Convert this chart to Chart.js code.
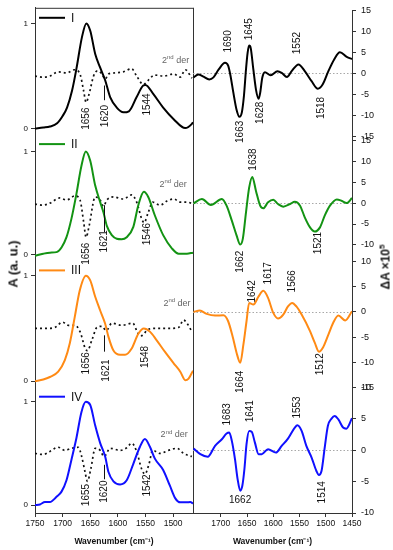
<!DOCTYPE html>
<html><head><meta charset="utf-8">
<script src="https://cdn.jsdelivr.net/npm/chart.js@4.4.1/dist/chart.umd.min.js"></script>
<style>
html,body{margin:0;padding:0;background:#fff;}
#wrap{position:relative;width:393px;height:550px;overflow:hidden;font-family:"Liberation Sans",Arial,sans-serif;}
canvas{position:absolute;top:0;}
#cL{left:0;} #cR{left:193px;}
.ytitle{position:absolute;font-weight:bold;white-space:nowrap;transform:translate(-50%,-50%) rotate(-90deg);color:#111;line-height:1;}
</style></head><body>
<div id="wrap">
<canvas id="cL" width="200" height="550"></canvas>
<canvas id="cR" width="200" height="550"></canvas>
<div class="ytitle" style="left:13px;top:264px;font-size:13px;">A (a. u.)</div>
<div class="ytitle" style="left:385px;top:267px;font-size:12px;">ΔA ×10<sup style="font-size:8px">5</sup></div>
</div>
<script>
// ---------- series names / colours ----------
const panelNames = ['I', 'II', 'III', 'IV'];
const panelColors = ['#000000', '#139313', '#ff8a14', '#1010ff'];

// ---------- left: absorbance spectra (A, a.u.) ----------
const wnAbsI = [1750,1735,1723,1710,1700,1692,1683,1675,1665,1657,1650,1641,1632,1623,1614,1602,1590,1580,1566,1554,1550,1536,1518,1499,1478,1466,1464];
const absI   = [0.00,0.01,0.02,0.05,0.12,0.20,0.36,0.57,0.87,1.00,0.93,0.71,0.58,0.46,0.30,0.20,0.155,0.165,0.30,0.41,0.415,0.33,0.20,0.09,0.005,0.045,0.06];
const wnAbsII = [1750,1735,1723,1711,1702,1693,1684,1675,1666,1658,1650,1641,1632,1626,1620,1611,1602,1593,1584,1572,1563,1553,1545,1533,1518,1502,1490,1475,1464];
const absII   = [-0.01,0.01,0.02,0.025,0.07,0.17,0.35,0.59,0.86,1.0,0.91,0.67,0.51,0.41,0.28,0.19,0.155,0.15,0.17,0.27,0.48,0.61,0.56,0.38,0.19,0.06,0.01,0.01,0.02];
const wnAbsIII = [1750,1735,1723,1708,1696,1687,1678,1669,1658,1650,1641,1632,1623,1617,1608,1596,1587,1575,1563,1553,1542,1530,1515,1499,1487,1478,1472,1464];
const absIII   = [0,0.016,0.04,0.09,0.2,0.36,0.61,0.86,1.0,0.955,0.80,0.67,0.545,0.42,0.29,0.25,0.25,0.31,0.45,0.50,0.47,0.39,0.28,0.17,0.09,0.01,0.025,0.1];
const wnAbsIV = [1750,1741,1732,1723,1711,1702,1693,1684,1675,1666,1658,1650,1641,1632,1623,1617,1608,1596,1584,1572,1560,1551,1542,1533,1518,1506,1496,1487,1475,1469,1464];
const absIV   = [0,0.006,0.03,0.03,0.08,0.13,0.24,0.44,0.65,0.90,1.0,0.97,0.77,0.60,0.47,0.32,0.23,0.20,0.24,0.40,0.565,0.64,0.565,0.45,0.34,0.19,0.065,0.026,0.026,0.03,0.016];

// ---------- left: 2nd derivative traces (dotted, drawn in A units) ----------
const wnDerI = [1750,1735,1723,1708,1693,1678,1668,1662,1657.5,1652,1644,1637,1629,1623,1617,1605,1590,1575,1566,1554,1543,1534,1517,1499,1487,1478,1466];
const derI   = [0.50,0.49,0.50,0.54,0.53,0.56,0.51,0.36,0.25,0.33,0.50,0.55,0.52,0.47,0.52,0.53,0.54,0.57,0.50,0.42,0.47,0.51,0.50,0.52,0.49,0.56,0.48];
const wnDerII = [1750,1735,1723,1705,1693,1678,1668.5,1662,1657.5,1652,1641,1632,1626,1620,1608,1590,1575,1566,1557,1552.5,1545,1537,1523.5,1511,1499,1487,1475,1463];
const derII   = [0.49,0.48,0.50,0.55,0.53,0.57,0.53,0.32,0.17,0.28,0.56,0.53,0.47,0.53,0.56,0.54,0.58,0.51,0.35,0.31,0.41,0.51,0.48,0.52,0.54,0.51,0.51,0.49];
const wnDerIII = [1750,1729,1714,1700,1690,1678,1668.5,1659,1655,1647,1638,1629,1621,1611,1593,1573,1566,1560,1554,1548,1536,1511,1490,1481,1475,1466];
const derIII   = [0.50,0.50,0.51,0.56,0.53,0.53,0.47,0.31,0.29,0.39,0.51,0.52,0.48,0.55,0.53,0.55,0.48,0.43,0.44,0.48,0.50,0.50,0.51,0.58,0.55,0.47];
const wnDerIV = [1750,1735,1723,1708,1696,1684,1671.5,1665.5,1659.4,1655,1649,1641,1632,1625,1614,1596,1584,1575,1566,1557,1551,1543.5,1537,1523.5,1508.5,1493,1481,1466];
const derIV   = [0.50,0.49,0.52,0.56,0.53,0.55,0.56,0.47,0.32,0.23,0.35,0.55,0.53,0.47,0.55,0.53,0.555,0.60,0.52,0.35,0.30,0.40,0.53,0.50,0.53,0.55,0.50,0.47];

// ---------- right: difference spectra (ΔA ×10^5) ----------
const wnDiffI = [1752,1743,1733,1722,1714,1704,1692,1686,1682,1676,1670,1664.5,1660,1656,1652,1649,1646,1643,1638,1633,1628,1625,1621,1616,1605,1592,1584,1574,1565,1552,1540,1527,1515,1506,1495,1484,1473,1460,1450];
const diffI   = [-1.0,-0.3,-0.8,-1.5,-1.0,0.9,2.5,1.8,-0.3,-4.7,-8.7,-10.4,-9.4,-5.5,0.9,4.8,6.6,6.0,0.9,-3.9,-6.1,-4.7,-1.1,0.24,-0.5,0.5,0.1,-0.9,0.5,2.1,0.5,-1.9,-3.7,-2.7,0.5,3.3,5.0,3.9,3.4];
const wnDiffII = [1752,1736,1719,1698,1689,1679,1670,1663,1658,1652,1646,1640,1633,1625,1619,1610,1600,1591,1581,1568,1559,1549,1540,1530,1521,1511,1502,1492,1479,1470,1460,1450];
const diffII   = [-0.1,0.96,-0.47,0.96,-0.62,-4.2,-7.7,-9.9,-8.5,-2.2,3.7,6.25,2.9,-0.6,-1.25,0.17,0.8,-0.23,-0.86,-0.23,0.32,-0.62,-3.4,-5.8,-6.8,-5.8,-3.0,-0.62,0.88,0.56,0.0,1.2];
const wnDiffIII = [1752,1740,1727,1711,1695,1686,1677,1670,1663,1657,1651,1646,1638,1628,1619,1610,1600,1591,1581,1572,1564,1556,1546,1530,1521,1513,1505,1495,1486,1476,1463,1450];
const diffIII   = [0,0.27,-0.39,-0.72,-0.65,-1.85,-5.1,-8.1,-10.1,-6.5,-1.85,1.8,1.46,3.1,4.2,2.8,-0.19,-1.3,-0.52,1.1,1.8,1.1,-0.52,-3.8,-6.1,-7.9,-7.0,-4.5,-2.2,-0.72,-1.7,0.14];
const wnDiffIV = [1752,1739,1725,1711,1698,1689,1684,1679,1673,1668,1663,1659,1655,1651,1646,1641,1635,1628,1622,1610,1595,1584,1572,1559,1554,1546,1537,1527,1518,1513,1508,1502,1496,1489,1483,1476,1467,1461,1450];
const diffIV   = [0.26,-0.64,-1.06,0.68,1.74,2.64,2.8,1.48,-1.43,-4.6,-6.45,-5.67,-3.0,0.95,3.06,2.9,1.2,-0.64,-0.64,0.15,-0.38,0.68,1.85,3.6,3.96,3.06,0.68,-1.17,-3.28,-3.97,-3.28,0.42,3.86,5.02,5.44,4.9,3.6,3.43,5.07];

// ---------- axes ----------
const absRange  = [[-0.052,1.149],[-0.055,1.169],[-0.052,1.145],[-0.077,1.147]];
const absTicks  = [0, 1];
const diffRange = [[-15,15],[-14,16],[-15,10],[-10,10]];
const diffTicks = [[-15,-10,-5,0,5,10,15],[-10,-5,0,5,10,15],[-15,-10,-5,0,5,10],[-10,-5,0,5,10]];
const xRangeLeft  = [1464, 1750];
const xRangeRight = [1450, 1753];
const xTicksLeft  = [1750,1700,1650,1600,1550,1500];
const xTicksRight = [1700,1650,1600,1550,1500,1450];
const xTitle = 'Wavenumber (cm⁻¹)';

// ---------- annotations ----------
const absPeakLabels = [
  [['1656',1657.6,0.095],['1620',1622.6,0.12],['1544',1547.6,0.23]],
  [['1656',1657.6,0.01],['1621',1624.5,0.13],['1546',1547.6,0.20]],
  [['1656',1657.6,0.17],['1621',1621.4,0.10],['1548',1550.7,0.23]],
  [['1655',1657.6,0.097],['1620',1624.5,0.13],['1542',1547.6,0.19]]
];
const absMarkLines = [[1625.5,0.41,0.27],[1625.5,0.48,0.22],[1624.5,0.435,0.28],[1626,0.39,0.25]];
const derLabelPos = [[1495.5,0.646],[1500,0.68],[1493,0.74],[1498,0.68]];
const derLabelText = ['2','nd',' der'];
const diffPeakLabels = [
  [['1690',1686.7,7.6],['1645',1645.5,10.5],['1663',1663.3,-14],['1628',1625.2,-9.45],['1552',1554,7.2],['1518',1507.7,-8.3]],
  [['1638',1638,10.4],['1662',1663,-14],['1521',1514,-9.55]],
  [['1642',1641,4.1],['1617',1609.4,7.7],['1566',1564.8,6.1],['1664',1663.3,-13.9],['1512',1509.6,-10.4]],
  [['1683',1688.6,5.7],['1641',1644.2,6.2],['1553',1554,6.8],['1662',1663.3,-7.9,'h'],['1514',1506.5,-6.7]]
];

// ---------- build ----------
const FONT = '"Liberation Sans", Arial, sans-serif';
Chart.defaults.font.family = FONT;
Chart.defaults.color = '#111';
const AX = '#333';

const pts = (xs, ys) => xs.map((x, i) => ({x: x, y: ys[i]}));
const absSeries = [[wnAbsI,absI],[wnAbsII,absII],[wnAbsIII,absIII],[wnAbsIV,absIV]];
const derSeries = [[wnDerI,derI],[wnDerII,derII],[wnDerIII,derIII],[wnDerIV,derIV]];
const diffSeries = [[wnDiffI,diffI],[wnDiffII,diffII],[wnDiffIII,diffIII],[wnDiffIV,diffIV]];

function xScale(range, ticks) {
  return {
    type: 'linear', position: 'bottom', reverse: true, min: range[0], max: range[1],
    afterBuildTicks: s => { s.ticks = ticks.map(v => ({value: v})); },
    afterFit: s => { s.height = 37; },
    grid: {drawOnChartArea: false, drawTicks: true, tickLength: 4, tickColor: AX},
    border: {color: AX, width: 1},
    ticks: {font: {size: 8.5}, color: '#111', padding: 2, autoSkip: false, maxRotation: 0, callback: v => String(v)},
    title: {display: true, text: xTitle, font: {size: 8.5, weight: 'bold'}, color: '#111', padding: {top: 0, bottom: 3}}
  };
}

function drawRot(ctx, text, x, y, horiz) {
  ctx.save();
  ctx.translate(x, y);
  if (!horiz) ctx.rotate(-Math.PI / 2);
  ctx.textAlign = 'center'; ctx.textBaseline = 'middle';
  ctx.fillText(text, 0, 0);
  ctx.restore();
}

function drawLegend(ctx, chart, scale, i) {
  const y = scale.top + 10;
  const x0 = chart.chartArea.left + 4;
  ctx.save();
  ctx.strokeStyle = panelColors[i]; ctx.lineWidth = 2;
  ctx.beginPath(); ctx.moveTo(x0, y); ctx.lineTo(x0 + 26, y); ctx.stroke();
  ctx.fillStyle = '#111'; ctx.font = '12px ' + FONT;
  ctx.textAlign = 'left'; ctx.textBaseline = 'middle';
  ctx.fillText(panelNames[i], x0 + 32, y + 0.5);
  ctx.restore();
}

function drawDerLabel(ctx, cx, cy) {
  ctx.save();
  ctx.fillStyle = '#666'; ctx.textBaseline = 'middle'; ctx.textAlign = 'left';
  const big = '9px ' + FONT, small = '6px ' + FONT;
  ctx.font = big; const w1 = ctx.measureText(derLabelText[0]).width, w3 = ctx.measureText(derLabelText[2]).width;
  ctx.font = small; const w2 = ctx.measureText(derLabelText[1]).width;
  let x = cx - (w1 + w2 + w3) / 2;
  ctx.font = big; ctx.fillText(derLabelText[0], x, cy); x += w1;
  ctx.font = small; ctx.fillText(derLabelText[1], x, cy - 3); x += w2;
  ctx.font = big; ctx.fillText(derLabelText[2], x, cy);
  ctx.restore();
}

// ----- left chart -----
const leftScales = {};
[3,2,1,0].forEach(i => {
  leftScales['yL' + i] = {
    type: 'linear', position: 'left', stack: 'L', stackWeight: 1, weight: 4 - i,
    min: absRange[i][0], max: absRange[i][1],
    afterBuildTicks: s => { s.ticks = absTicks.map(v => ({value: v})); },
    afterFit: s => { s.width = 35; },
    grid: {drawOnChartArea: false, drawTicks: true, tickLength: 4, tickColor: AX},
    border: {color: AX, width: 1},
    ticks: {font: {size: 8}, color: '#111', padding: 3, autoSkip: false, callback: v => String(v)}
  };
});
leftScales.x = xScale(xRangeLeft, xTicksLeft);

const leftDatasets = [];
for (let i = 0; i < 4; i++) {
  leftDatasets.push({label: panelNames[i], data: pts(absSeries[i][0], absSeries[i][1]), yAxisID: 'yL' + i, xAxisID: 'x',
    borderColor: panelColors[i], borderWidth: 2, pointRadius: 0, fill: false, cubicInterpolationMode: 'monotone'});
  leftDatasets.push({label: panelNames[i] + ' 2nd der', data: pts(derSeries[i][0], derSeries[i][1]), yAxisID: 'yL' + i, xAxisID: 'x',
    borderColor: '#111', borderWidth: 1.7, borderDash: [2, 3], pointRadius: 0, fill: false, cubicInterpolationMode: 'monotone'});
}

const leftPlugin = {
  id: 'leftDeco',
  afterDatasetsDraw(chart) {
    const ctx = chart.ctx, a = chart.chartArea, xs = chart.scales.x;
    ctx.save();
    ctx.strokeStyle = AX; ctx.lineWidth = 1;
    ctx.beginPath();
    ctx.moveTo(a.left, a.top + 0.5); ctx.lineTo(a.right + 0.5, a.top + 0.5);
    ctx.moveTo(a.right + 0.5, a.top); ctx.lineTo(a.right + 0.5, a.bottom);
    ctx.stroke();
    for (let i = 0; i < 4; i++) {
      const ys = chart.scales['yL' + i];
      drawLegend(ctx, chart, ys, i);
      ctx.fillStyle = '#111'; ctx.font = '10px ' + FONT;
      absPeakLabels[i].forEach(l => drawRot(ctx, l[0], xs.getPixelForValue(l[1]), ys.getPixelForValue(l[2]), false));
      const m = absMarkLines[i];
      ctx.strokeStyle = '#111'; ctx.lineWidth = 1;
      ctx.beginPath();
      const mx = Math.round(xs.getPixelForValue(m[0])) + 0.5;
      ctx.moveTo(mx, ys.getPixelForValue(m[1])); ctx.lineTo(mx, ys.getPixelForValue(m[2]));
      ctx.stroke();
      drawDerLabel(ctx, xs.getPixelForValue(derLabelPos[i][0]), ys.getPixelForValue(derLabelPos[i][1]));
    }
    ctx.restore();
  }
};

new Chart(document.getElementById('cL'), {
  type: 'line',
  data: {datasets: leftDatasets},
  options: {
    responsive: false, animation: false, devicePixelRatio: 1,
    layout: {padding: {left: 0, right: 7, top: 7, bottom: 0}},
    plugins: {legend: {display: false}, tooltip: {enabled: false}},
    scales: leftScales
  },
  plugins: [leftPlugin]
});

// ----- right chart -----
const rightScales = {};
[0,1,2,3].forEach(i => {
  rightScales['yR' + i] = {
    type: 'linear', position: 'right', stack: 'R', stackWeight: 1, weight: i + 1,
    min: diffRange[i][0], max: diffRange[i][1],
    afterBuildTicks: s => { s.ticks = diffTicks[i].map(v => ({value: v})); },
    afterFit: s => { s.width = 41; },
    grid: {drawOnChartArea: false, drawTicks: true, tickLength: 4, tickColor: AX},
    border: {color: AX, width: 1},
    ticks: {font: {size: 9}, color: '#111', padding: 5, autoSkip: false, callback: v => String(v)}
  };
});
rightScales.x = xScale(xRangeRight, xTicksRight);

const rightDatasets = [];
for (let i = 0; i < 4; i++) {
  rightDatasets.push({label: panelNames[i] + ' diff', data: pts(diffSeries[i][0], diffSeries[i][1]), yAxisID: 'yR' + i, xAxisID: 'x',
    borderColor: panelColors[i], borderWidth: 2, pointRadius: 0, fill: false, cubicInterpolationMode: 'monotone'});
}

const rightPlugin = {
  id: 'rightDeco',
  beforeDatasetsDraw(chart) {
    const ctx = chart.ctx, a = chart.chartArea;
    ctx.save();
    ctx.strokeStyle = '#a8a8a8'; ctx.lineWidth = 1; ctx.setLineDash([1.5, 2]);
    for (let i = 0; i < 4; i++) {
      const y = Math.round(chart.scales['yR' + i].getPixelForValue(0)) + 0.5;
      ctx.beginPath(); ctx.moveTo(a.left, y); ctx.lineTo(a.right, y); ctx.stroke();
    }
    ctx.restore();
  },
  afterDatasetsDraw(chart) {
    const ctx = chart.ctx, xs = chart.scales.x;
    ctx.save();
    ctx.fillStyle = '#111'; ctx.font = '10px ' + FONT;
    for (let i = 0; i < 4; i++) {
      const ys = chart.scales['yR' + i];
      diffPeakLabels[i].forEach(l => drawRot(ctx, l[0], xs.getPixelForValue(l[1]), ys.getPixelForValue(l[2]), l[3] === 'h'));
    }
    ctx.restore();
  }
};

new Chart(document.getElementById('cR'), {
  type: 'line',
  data: {datasets: rightDatasets},
  options: {
    responsive: false, animation: false, devicePixelRatio: 1,
    layout: {padding: {left: 0, right: 0, top: 7, bottom: 0}},
    plugins: {legend: {display: false}, tooltip: {enabled: false}},
    scales: rightScales
  },
  plugins: [rightPlugin]
});
</script>
</body></html>
